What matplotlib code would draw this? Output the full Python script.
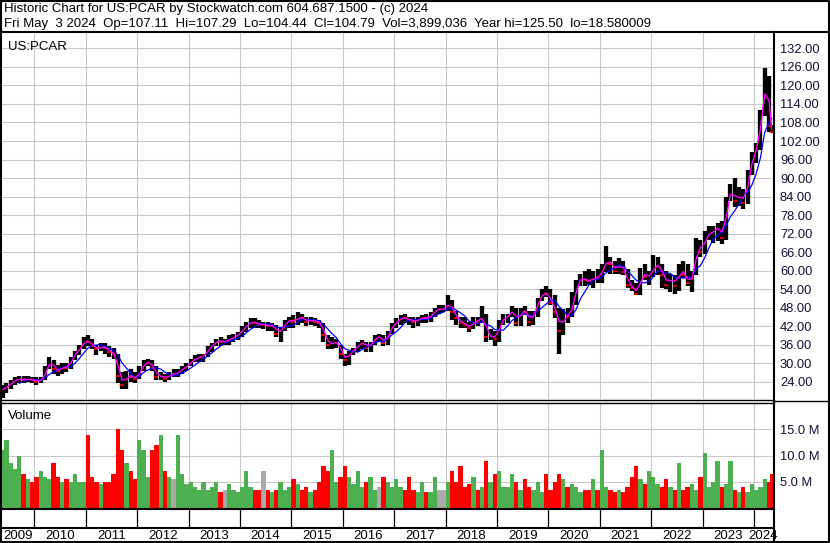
import numpy as np
import pandas as pd
import matplotlib
matplotlib.use('Agg')
import matplotlib.pyplot as plt
from matplotlib.ticker import FormatStrFormatter

W, H = 830, 543
plt.rcParams['font.family'] = ['Liberation Sans', 'DejaVu Sans']
plt.rcParams['font.size'] = 9

TITLE = 'Historic Chart for US:PCAR by Stockwatch.com 604.687.1500 - (c) 2024'
QUOTE = ('Fri May  3 2024  Op=107.11  Hi=107.29  Lo=104.44  Cl=104.79  '
         'Vol=3,899,036  Year hi=125.50  lo=18.580009')
SYMBOL = 'US:PCAR'
FIRST_MONTH = '2009-05'

# monthly bars, May 2009 .. May 2024
CLOSE = [
    21.5, 22.5, 24, 24.5, 25, 24.5, 25, 24.5,                         # 2009
    24, 24.5, 28, 31, 28, 27.5, 29, 28.5, 31.5, 33.5, 35, 37.5,       # 2010
    37, 35.5, 34.5, 35.5, 35, 33.5, 33, 26, 23, 26.5, 25.5, 25,       # 2011
    28, 30, 30.5, 28.5, 25.5, 26, 25, 26.5, 26.5, 27, 28.5, 29,       # 2012
    31, 31.5, 32, 32.5, 35, 36, 37.5, 37, 37, 38, 38.5, 39.5,         # 2013
    41, 42.5, 43.5, 43, 42.5, 42.5, 42, 42.5, 39.5, 41, 43.5, 44,     # 2014
    43.5, 45, 44.5, 43.5, 44, 43.5, 43, 39, 36, 36.5, 37, 33,         # 2015
    31, 33.5, 34.5, 36, 37, 35, 36.5, 38.5, 38.5, 36.5, 40, 42.5,     # 2016
    43.5, 45, 44.5, 44, 43.5, 44, 45, 44.5, 45.5, 47.5, 47.5, 47.5,   # 2017
    50, 46.5, 44.5, 43, 42.5, 41.5, 44, 43.5, 45.5, 38.5, 39, 38,     # 2018
    43.5, 44.5, 45.5, 47.5, 43, 47.5, 46.5, 43.5, 46.5, 50.5, 53, 52.5,  # 2019
    49.5, 46.5, 40.5, 46, 45, 49.5, 56.5, 57.5, 57, 56.5, 58, 57.5,   # 2020
    61, 63.5, 62, 60, 62.5, 59.5, 55.5, 54.5, 52.5, 59.5, 58, 58.5,   # 2021
    61.5, 62, 58.5, 55.5, 58, 55, 61, 58.5, 56, 58.5, 69, 66,         # 2022
    71.5, 72, 73, 74.5, 70.5, 83.5, 86, 82.5, 85, 82, 91.5, 97.5,     # 2023
    100.5, 111, 123.5, 107, 104.79,                                   # 2024
]
HIGH = [
    23, 23.5, 24.5, 25.5, 26, 26, 26, 25.5,
    25.5, 25.5, 29, 32, 31, 29.5, 30, 30, 32, 34, 36, 38.5,
    39, 38, 36, 36.5, 36.5, 35.5, 35, 33, 27, 27.5, 28, 27,
    29, 31, 31.5, 31, 29, 27, 26.5, 27, 28, 28, 29, 30,
    31.5, 32.5, 33, 33, 35.5, 36.5, 38, 38.5, 38, 39, 39.5, 40,
    42, 43.5, 44.5, 44.5, 44, 43.5, 43.5, 43, 42.5, 41.5, 44, 45,
    45.5, 46.5, 46, 45, 45, 44.5, 44, 43, 39, 38.5, 38, 36,
    33, 34, 35, 37, 37.5, 37, 37, 39, 39.5, 39, 40.5, 43,
    44.5, 45.5, 46, 45, 45, 45, 45.5, 46, 46.5, 48, 49, 49,
    52, 50.5, 47, 45, 45, 43.5, 45, 45, 48.5, 46, 41, 40.5,
    44, 46, 46, 48.5, 48, 48, 48.5, 47, 47, 51, 54, 55,
    54, 52, 48, 47.5, 48, 53, 57, 59, 60, 60.5, 60, 60.5,
    62, 68, 64.5, 63, 64, 63, 60.5, 57, 56, 61, 62, 60,
    65, 64.5, 62, 60, 59, 58.5, 62, 63, 62, 60, 70.5, 70,
    73, 74.5, 74.5, 75.5, 76, 84, 88, 90, 87, 86.5, 92.5, 98.5,
    101.5, 112, 125.5, 123, 107.29,
]
LOW = [
    18.6, 20.5, 21.5, 23, 23.5, 23.5, 24, 23.5,
    23, 23.5, 24.5, 28, 26.5, 26, 26.5, 27, 28, 31, 32.5, 34.5,
    35.5, 34.5, 32.5, 34, 33, 32, 31.5, 23.5, 21.5, 21.8, 24, 23.5,
    25, 27.5, 29, 27.5, 24.5, 24.5, 24, 24.5, 25.5, 25.5, 26.5, 27.5,
    29, 30.5, 30.5, 30.5, 32, 33.5, 35.5, 35.5, 36, 36, 37, 37.5,
    38.5, 40, 41.5, 41.5, 41.5, 41, 40.5, 40.5, 38.5, 37, 40.5, 41.5,
    41.5, 42.5, 43, 42, 42.5, 42, 41.5, 37, 34.5, 34.5, 35, 31.5,
    29, 29.5, 32.5, 33.5, 34.5, 33.5, 33.5, 36, 37, 35.5, 36, 39.5,
    41.5, 42.5, 43, 42.5, 41.5, 42, 43, 43, 43.5, 45, 46, 46.5,
    47, 44, 42.5, 41.5, 41.5, 40, 41, 42, 43, 37, 37.5, 35.5,
    37, 42.5, 43, 45, 42, 42, 45.5, 42, 42.5, 45, 50, 51.5,
    49, 44.5, 33, 39, 43, 45, 49, 55, 55, 55.5, 54.5, 56,
    56, 59.5, 59, 59, 59, 58.5, 54.5, 53.5, 52, 52, 57, 55.5,
    58, 58.5, 54.5, 54, 53, 52.5, 53.5, 57.5, 55, 53, 58.5, 64.5,
    65.5, 70, 69, 69.5, 68.5, 70, 82.5, 80.5, 81, 80, 81.5, 91,
    95, 99, 110, 105, 104.44,
]
VOLUME_M = [
    11, 13, 8.5, 7.5, 10, 6.5, 5.5, 5,
    6, 7, 6, 5.5, 8.5, 6, 5, 5.5, 5, 6.5, 5, 5,
    14, 6, 5, 4.5, 5, 5, 6.5, 15, 11, 8.5, 7, 5.5,
    13, 11, 6, 11, 12, 14, 7, 6, 5.5, 14, 6.5, 4.5,
    5, 4, 3.5, 5, 3.5, 4, 5, 3, 3.5, 4.5, 3.5, 3,
    4, 7, 4, 3.5, 3.5, 7, 3.5, 3, 3.5, 5, 3.5, 4,
    5.5, 4.5, 3.5, 4, 3, 3.5, 5, 8, 7, 11, 5, 6,
    8, 6, 4.5, 7, 4, 5, 6, 3.5, 4, 6, 5, 4,
    5.5, 4, 3.5, 6, 3.5, 3, 5, 3, 3, 6, 3.5, 3.5,
    5, 7, 5, 8, 4, 4.5, 6, 3.5, 4, 9, 5, 6.5,
    7, 4, 4, 6.5, 5, 3.5, 5.5, 4, 3.5, 5, 3, 6.5,
    3.5, 5, 6.5, 5.5, 4, 4.5, 4, 3, 3.5, 3.5, 5.5, 3.5,
    11, 4, 3.5, 3, 3.5, 3, 4, 6, 8, 5.5, 4.5, 7,
    6, 4.5, 4, 5.5, 4, 3.5, 8.5, 3.5, 4, 4.5, 3.5, 6,
    10.5, 4, 5, 9, 4, 4.5, 9, 3.5, 3, 4, 3, 4.5,
    3.5, 4, 5.5, 5, 6.5,
]
PRICE_TICKS = list(range(24, 133, 6))
VOLUME_TICKS = [5e6, 10e6, 15e6]
VOLUME_LABELS = ['5.0 M', '10.0 M', '15.0 M']
YEARS = list(range(2009, 2025))

X0, X1 = 2009.372, 2024.37
GRID = '#c8c8c8'
LABEL_COLOR = '#10103a'


def box(x0, y0, x1, y1):
    return [x0 / W, 1 - y1 / H, (x1 - x0) / W, (y1 - y0) / H]


def clean(ax):
    for s in ax.spines.values():
        s.set_visible(False)
    ax.set_xlim(X0, X1)


months = pd.period_range(FIRST_MONTH, periods=len(CLOSE), freq='M')
xs = np.clip(months.year + (months.month - 0.5) / 12, 2009.392, 2024.345)
close = pd.Series(CLOSE)
ma_short = close.rolling(2, min_periods=1).mean()
ma_long = close.rolling(5).mean()

diff = close.diff().fillna(1)
down = (diff < 0).values
vol_colors = np.where(diff > 0, '#4cb050', np.where(diff < 0, '#ff0000', '#aaaaaa'))

fig = plt.figure(figsize=(W / 100, H / 100), dpi=100)
fig.patch.set_facecolor('white')

# price panel
ax = fig.add_axes(box(2, 33, 773, 399))
clean(ax)
ax.set_ylim(18.4, 137.0)
ax.set_xticks(range(2010, 2025))
ax.set_yticks(PRICE_TICKS)
ax.yaxis.set_major_formatter(FormatStrFormatter('%.2f'))
ax.grid(True, color=GRID, lw=0.75)
ax.set_axisbelow(True)
ax.tick_params(axis='x', length=0, labelbottom=False)
ax.tick_params(axis='y', length=0, left=False, labelleft=False, labelright=True,
               pad=5, labelcolor=LABEL_COLOR, labelsize=9.3)
ax.vlines(xs, LOW, HIGH, color='black', lw=3.1, zorder=2)
ax.plot(xs[down], close[down], ls='none', marker='_', color='red', ms=2.5, mew=1.2, zorder=3)
ax.plot(xs, ma_long, color='#0000ff', lw=0.9, zorder=4)
ax.plot(xs, ma_short, color='#ff00ff', lw=1.0, zorder=5)
ax.text(0.008, 0.978, SYMBOL, transform=ax.transAxes, va='top', ha='left', fontsize=9.5)

# volume panel
vax = fig.add_axes(box(2, 403, 773, 508))
clean(vax)
vax.set_ylim(0, 20e6)
vax.set_xticks(range(2010, 2025))
vax.set_yticks(VOLUME_TICKS)
vax.set_yticklabels(VOLUME_LABELS)
vax.grid(True, color=GRID, lw=0.75)
vax.set_axisbelow(True)
vax.tick_params(axis='x', length=0, labelbottom=False)
vax.tick_params(axis='y', length=0, left=False, labelleft=False, labelright=True,
                pad=5, labelcolor=LABEL_COLOR, labelsize=9.3)
vax.bar(xs, np.array(VOLUME_M) * 1e6, width=1 / 12, color=vol_colors, lw=0, zorder=2)
vax.text(0.008, 0.93, 'Volume', transform=vax.transAxes, va='top', ha='left', fontsize=9.5)

# date strip
dax = fig.add_axes(box(2, 510, 773, 527))
clean(dax)
dax.set_ylim(0, 1)
dax.set_xticks([])
dax.set_yticks([])
for y in YEARS[1:]:
    dax.axvline(y, color='black', lw=0.9)

lax = fig.add_axes(box(2, 529, 773, 541))
clean(lax)
lax.set_ylim(0, 1)
lax.set_xticks([])
lax.set_yticks([])
for y in YEARS:
    mid = (max(y, X0) + min(y + 1, X1)) / 2
    lax.text(mid, 0.45, str(y), ha='center', va='center', fontsize=9.5, clip_on=False)

# frame and header
fa = fig.add_axes([0, 0, 1, 1], zorder=10)
fa.set_xlim(0, W)
fa.set_ylim(H, 0)
fa.axis('off')
fa.patch.set_alpha(0)
thick = 1.5
fa.plot([1, 828.5, 828.5, 1, 1], [1, 1, 541.5, 541.5, 1], color='black', lw=thick)
fa.plot([0, W], [32, 32], color='black', lw=thick)
fa.plot([773.5, 773.5], [32, 542], color='black', lw=thick)
fa.plot([0, 773.5], [399.5, 399.5], color='black', lw=1.0)
fa.plot([0, 773.5], [403, 403], color='black', lw=1.0)
fa.plot([773.5, W], [400.5, 400.5], color='black', lw=1.0)
fa.plot([0, 773.5], [509, 509], color='black', lw=thick)
fa.plot([0, 773.5], [528, 528], color='black', lw=thick)
fa.text(4, 9, TITLE, va='center', ha='left', fontsize=9.5)
fa.text(4, 24, QUOTE, va='center', ha='left', fontsize=9.5, wrap=False)

fig.savefig('out.png', dpi=100)
